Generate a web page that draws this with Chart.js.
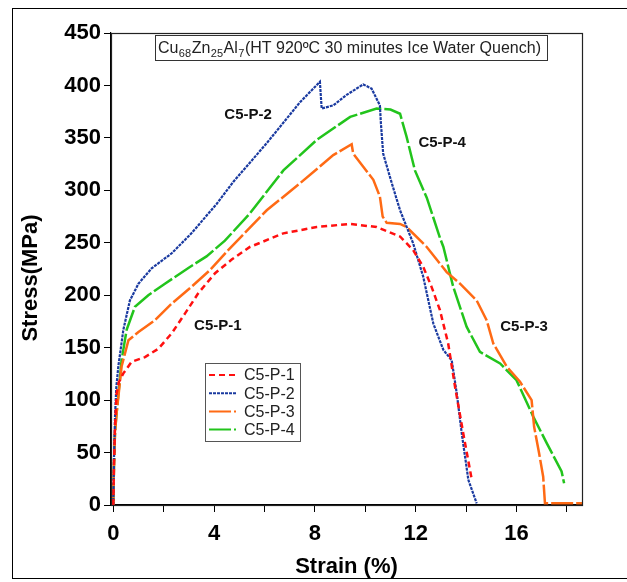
<!DOCTYPE html>
<html>
<head>
<meta charset="utf-8">
<script src="https://cdn.jsdelivr.net/npm/chart.js@4.4.0/dist/chart.umd.min.js"></script>
<style>
  html, body { margin: 0; padding: 0; background: #fff; }
  canvas { display: block; }
</style>
</head>
<body>
<canvas id="chart" width="627" height="582"></canvas>
<script>
// stress-strain curves (strain %, stress MPa)
const p1Strain = [0, 0.03, 0.07, 0.13, 0.22, 0.4, 0.73, 1.26, 1.79, 2.32, 2.85, 3.37, 4.04, 4.7, 5.42, 6.75, 8.07, 9.4, 10.45, 11.38, 11.9, 12.3, 12.63, 12.96, 13.29, 13.56, 13.89, 14.22]
const p1Stress = [0, 40, 75, 106, 117, 125.5, 136.6, 141, 149, 163.7, 182.7, 201.8, 221, 234, 246, 259, 265, 268, 265, 256, 243, 227, 208, 186, 154, 113, 68, 25]

const p2Strain = [0, 0.03, 0.07, 0.12, 0.2, 0.4, 0.66, 1.0, 1.52, 2.32, 3.1, 4.1, 4.76, 6.09, 7.41, 8.2, 8.25, 8.27, 8.73, 9.26, 9.92, 10.25, 10.58, 10.62, 10.71, 11.05, 11.38, 11.9, 12.3, 12.7, 13.1, 13.43, 13.63, 13.83, 14.09, 14.42]
const p2Stress = [0, 45, 85, 112, 132, 167, 195, 211, 225.6, 240, 259, 287, 308, 345, 384, 403.5, 385, 378, 381, 391, 401, 397, 381, 364, 335, 307, 281, 249.5, 217.6, 173, 147.8, 138, 106.5, 68, 24, 1.6]

const p3Strain = [0, 0.03, 0.07, 0.13, 0.33, 0.6, 1.0, 1.65, 2.32, 3.1, 3.84, 4.56, 6.09, 7.41, 8.73, 9.46, 9.52, 9.92, 10.32, 10.58, 10.69, 10.85, 11.38, 11.64, 12.44, 13.23, 13.76, 14.42, 14.82, 15.08, 15.61, 16.14, 16.6, 16.7, 16.9, 17.06, 17.13, 18.6]
const p3Stress = [0, 40, 70, 87, 132, 157, 165, 176, 192, 208, 224, 243, 281, 306.7, 333.6, 344, 335, 322.5, 310, 294, 275, 269, 268, 265, 246, 222, 211, 195, 176, 154, 132, 117.5, 100, 74.6, 49, 27, 1.6, 1.6]

const p4Strain = [0, 0.03, 0.07, 0.13, 0.33, 0.53, 0.86, 1.39, 2.05, 2.98, 3.7, 4.43, 5.42, 6.75, 8.07, 9.4, 10.45, 11.0, 11.38, 11.64, 11.97, 12.44, 12.96, 13.1, 13.49, 14.02, 14.55, 15.35, 16.0, 16.67, 17.2, 17.79, 17.89]
const p4Stress = [0, 40, 70, 87, 138, 167, 189, 200, 211, 226, 237, 252, 278, 319, 348, 370, 378, 377, 373, 351, 319, 293, 255, 246, 208, 170, 146, 135, 119, 84, 59, 32, 20.7]

const seriesNames = ['C5-P-1', 'C5-P-2', 'C5-P-3', 'C5-P-4']
const xLabelTicks = [0, 4, 8, 12, 16]

// curve labels placed in data coordinates
const notes = [
  { text: 'C5-P-2', x: 5.35, y: 372 },
  { text: 'C5-P-4', x: 13.05, y: 345 },
  { text: 'C5-P-1', x: 4.15, y: 171 },
  { text: 'C5-P-3', x: 16.3, y: 170 }
]

const FONT = '"Liberation Sans", Arial, sans-serif'

function pairs(xs, ys) {
  return xs.map((x, i) => ({ x: x, y: ys[i] }))
}

const colors = ['#ff1010', '#1a3aa0', '#ff6a14', '#22c41c']
const dashes = [[6, 4], [3, 1], [22, 3], [22, 3]]
const widths = [2.5, 2.2, 2.5, 2.5]
const allData = [[p1Strain, p1Stress], [p2Strain, p2Stress], [p3Strain, p3Stress], [p4Strain, p4Stress]]

const datasets = allData.map((d, i) => ({
  label: seriesNames[i],
  data: pairs(d[0], d[1]),
  borderColor: colors[i],
  backgroundColor: colors[i],
  borderDash: dashes[i],
  borderWidth: widths[i],
  pointRadius: 0,
  tension: 0,
  fill: false
}))

const decor = {
  id: 'decor',
  beforeDraw(chart) {
    const ctx = chart.ctx
    ctx.save()
    ctx.fillStyle = '#fff'
    ctx.fillRect(0, 0, chart.width, chart.height)
    // outer frame of the figure
    ctx.strokeStyle = '#000'
    ctx.lineWidth = 1
    ctx.strokeRect(12.5, 8.5, 700, 570)
    ctx.restore()
  },
  afterDraw(chart) {
    const ctx = chart.ctx
    const a = chart.chartArea
    const xs = chart.scales.x
    const ys = chart.scales.y
    ctx.save()
    // plot box
    ctx.strokeStyle = '#222'
    ctx.lineWidth = 1.2
    ctx.strokeRect(a.left + 0.5, a.top + 0.5, a.right - a.left, a.bottom - a.top)

    // title box with subscripts
    ctx.fillStyle = '#fff'
    ctx.fillRect(155, 35, 392, 25)
    ctx.strokeStyle = '#333'
    ctx.lineWidth = 1
    ctx.strokeRect(155.5, 35.5, 392, 25)
    const parts = [['Cu', 0], ['68', 1], ['Zn', 0], ['25', 1], ['Al', 0], ['7', 1], ['(HT 920\u00baC 30 minutes Ice Water Quench)', 0]]
    let tx = 158
    ctx.fillStyle = '#222'
    ctx.textBaseline = 'alphabetic'
    ctx.textAlign = 'left'
    parts.forEach(p => {
      ctx.font = p[1] ? '11px ' + FONT : '16px ' + FONT
      ctx.fillText(p[0], tx, p[1] ? 57 : 53)
      tx += ctx.measureText(p[0]).width + (p[1] ? 0.6 : 0.4)
    })

    // curve labels
    ctx.font = 'bold 15px ' + FONT
    ctx.fillStyle = '#111'
    ctx.textAlign = 'center'
    ctx.textBaseline = 'middle'
    notes.forEach(n => {
      ctx.fillText(n.text, xs.getPixelForValue(n.x), ys.getPixelForValue(n.y))
    })

    // legend
    ctx.fillStyle = '#fff'
    ctx.fillRect(205, 363, 95, 78)
    ctx.strokeStyle = '#555'
    ctx.lineWidth = 1
    ctx.strokeRect(205.5, 363.5, 95, 78)
    chart.data.datasets.forEach((ds, i) => {
      const ly = 375 + i * 18.2
      ctx.strokeStyle = ds.borderColor
      ctx.lineWidth = 2
      ctx.setLineDash(ds.borderDash)
      ctx.beginPath()
      ctx.moveTo(209, ly)
      ctx.lineTo(236, ly)
      ctx.stroke()
      ctx.setLineDash([])
      ctx.font = '16px ' + FONT
      ctx.fillStyle = '#222'
      ctx.textAlign = 'left'
      ctx.fillText(ds.label, 244, ly + 1)
    })

    // axis titles
    ctx.fillStyle = '#000'
    ctx.font = 'bold 22px ' + FONT
    ctx.textAlign = 'center'
    ctx.textBaseline = 'middle'
    ctx.fillText('Strain (%)', (a.left + a.right) / 2, 567)
    ctx.translate(31, 278)
    ctx.rotate(-Math.PI / 2)
    ctx.fillText('Stress(MPa)', 0, 0)
    ctx.restore()
  }
}

new Chart(document.getElementById('chart').getContext('2d'), {
  type: 'line',
  data: { datasets: datasets },
  plugins: [decor],
  options: {
    responsive: false,
    animation: false,
    devicePixelRatio: 1,
    layout: { padding: { left: 0, top: 33, right: 45, bottom: 0 } },
    plugins: { legend: { display: false }, tooltip: { enabled: false } },
    scales: {
      x: {
        type: 'linear',
        min: -0.09,
        max: 18.6,
        afterFit: s => { s.height = 77 },
        border: { display: true, color: '#000', width: 1.2 },
        grid: { drawOnChartArea: false, drawTicks: true, tickLength: 7, color: '#000', tickColor: '#000' },
        ticks: {
          stepSize: 2,
          includeBounds: false,
          padding: 9,
          color: '#000',
          font: { family: FONT, size: 22, weight: 'bold' },
          callback: v => xLabelTicks.includes(v) ? String(v) : ''
        }
      },
      y: {
        min: 0,
        max: 450,
        afterFit: s => { s.width = 111 },
        border: { display: true, color: '#000', width: 1.2 },
        grid: { drawOnChartArea: false, drawTicks: true, tickLength: 7, color: '#000', tickColor: '#000' },
        ticks: {
          stepSize: 50,
          padding: 3,
          color: '#000',
          font: { family: FONT, size: 22, weight: 'bold' }
        }
      }
    }
  }
})
</script>
</body>
</html>
